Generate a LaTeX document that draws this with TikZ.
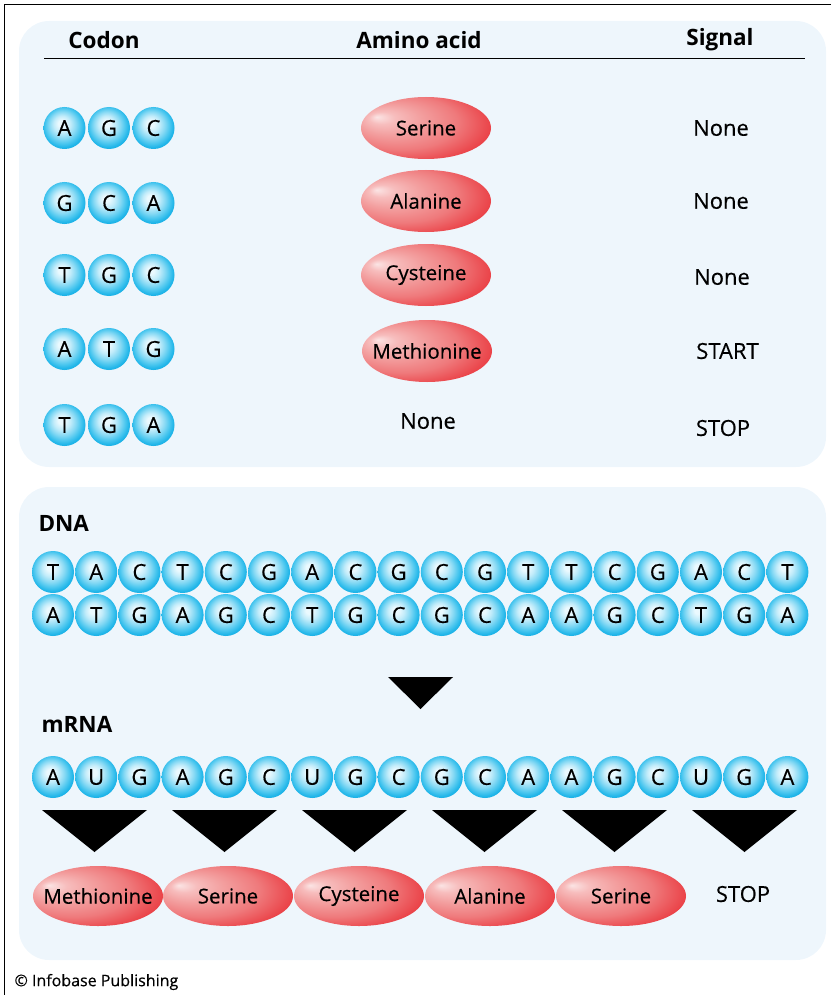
\documentclass[tikz,border=0pt]{standalone}
\usepackage{fontspec}
\setmainfont{Open Sans}
\newfontfamily\labelfont{Open Sans}[FakeBold=0.35]
\usetikzlibrary{shapes.geometric}

\definecolor{panel}{HTML}{EEF6FC}
\definecolor{sphA}{HTML}{EAF9FE}
\definecolor{sphB}{HTML}{C2ECFA}
\definecolor{sphC}{HTML}{86D9F4}
\definecolor{sphD}{HTML}{4CC7EF}
\definecolor{sphE}{HTML}{22B6E9}
\definecolor{sphF}{HTML}{06A5DF}
\definecolor{pepA}{HTML}{FBE4E4}
\definecolor{pepB}{HTML}{F7BDBD}
\definecolor{pepC}{HTML}{F3A0A0}
\definecolor{pepD}{HTML}{EF7A7C}
\definecolor{pepE}{HTML}{EB4A4F}
\definecolor{pepF}{HTML}{E8262E}
\definecolor{pepG}{HTML}{E41E28}

% shadings are stretched so that their central 50bp square covers the shape
% glossy nucleotide ball: highlight a little up and left of centre
\pgfdeclareradialshading{nucball}{\pgfpoint{-4bp}{6bp}}{%
  color(0bp)=(sphA); color(4bp)=(sphA); color(10bp)=(sphB);
  color(16bp)=(sphC); color(21bp)=(sphD); color(25bp)=(sphE);
  color(31bp)=(sphF); color(40bp)=(sphF)}
% amino-acid ellipse: pale highlight upper left, strong red on the right
\pgfdeclareradialshading{aminoball}{\pgfpoint{-19bp}{9bp}}{%
  color(0bp)=(pepA); color(5bp)=(pepB); color(12bp)=(pepC);
  color(22bp)=(pepD); color(30bp)=(pepE); color(36bp)=(pepF);
  color(46bp)=(pepG)}

% keeps the ellipse size independent of the label width
\newcommand\aclbl[1]{\makebox[0pt]{#1}}

\tikzset{
  nuc/.style={circle, minimum size=42pt, inner sep=0pt, shading=nucball,
    font=\labelfont\fontsize{22}{22}\selectfont},
  amino/.style={ellipse, minimum width=130pt, minimum height=62pt, inner sep=0pt,
    shading=aminoball, font=\labelfont\fontsize{20.5}{21}\selectfont},
  aminolow/.style={amino, minimum height=60pt},
  hdr/.style={font=\fontsize{22.5}{22}\selectfont\bfseries},
  plain/.style={font=\labelfont\fontsize{22}{22}\selectfont},
  arrowtri/.style={fill=black},
}

\begin{document}
\begin{tikzpicture}[x=1pt,y=-1pt]
\useasboundingbox (0,0) rectangle (831,995);

% page frame (top and left edges)
\draw[line width=1.4pt] (4.5,995) -- (4.5,4.5) -- (831,4.5);

% panels
\fill[panel, rounded corners=30pt] (19,21) rectangle (826,467);
\fill[panel, rounded corners=30pt] (19,487) rectangle (826,960);

% ---------- codon table ----------
\node[hdr] (hcodon) at (104,40) {Codon};
\node[hdr] (hamino) at (419,40) {Amino acid};
\node[hdr] (hsignal) at (720,40) {Signal};
\draw[line width=1pt] (44,59) -- (805,59);

\foreach \row/\y/\sig/\sx in {
  1/128/None/721,
  2/201/None/721,
  3/277/None/722,
  4/351/START/727.5,
  5/428/STOP/723}{
  \node[plain] (sig\row) at (\sx,\y) {\sig};
}
\foreach \row/\y/\a/\b/\c in {
  1/128/A/G/C,
  2/203/G/C/A,
  3/275/T/G/C,
  4/349/A/T/G,
  5/425/T/G/A}{
  \node[nuc] (t\row a) at (64.5,\y) {\a};
  \node[nuc] (t\row b) at (109,\y) {\b};
  \node[nuc] (t\row c) at (153.5,\y) {\c};
}
\node[amino] (acid1) at (426,128) {\aclbl{Serine}};
\node[amino] (acid2) at (426,201) {\aclbl{Alanine}};
\node[amino] (acid3) at (426,275) {\aclbl{Cysteine}};
\node[amino] (acid4) at (427,351) {\aclbl{Methionine}};
\node[plain] (acid5) at (428,421) {None};

% ---------- DNA ----------
\node[hdr, anchor=west] (dnalbl) at (35,523) {DNA};
\foreach \n/\b [count=\i from 0] in {1/T,2/A,3/C,4/T,5/C,6/G,7/A,8/C,9/G,10/C,11/G,12/T,13/T,14/C,15/G,16/A,17/C,18/T}
  \node[nuc] (d1n\n) at (53+43.2*\i,572) {\b};
\foreach \n/\b [count=\i from 0] in {1/A,2/T,3/G,4/A,5/G,6/C,7/T,8/G,9/C,10/G,11/C,12/A,13/A,14/G,15/C,16/T,17/G,18/A}
  \node[nuc] (d2n\n) at (53+43.2*\i,615) {\b};

% transcription arrow
\fill[arrowtri] (388,677) -- (453,677) -- (420.5,709) -- cycle;

% ---------- mRNA ----------
\node[hdr, anchor=west] (rnalbl) at (38,724) {mRNA};
\foreach \n/\b [count=\i from 0] in {1/A,2/U,3/G,4/A,5/G,6/C,7/U,8/G,9/C,10/G,11/C,12/A,13/A,14/G,15/C,16/U,17/G,18/A}
  \node[nuc] (r\n) at (53+43.2*\i,777) {\b};

% translation arrows, one per codon
\foreach \k in {0,...,5}
  \fill[arrowtri] (42+130*\k,810) -- (147+130*\k,810) -- (94.5+130*\k,852) -- cycle;

% ---------- protein ----------
\node[aminolow] (p1) at (98,896) {\aclbl{Methionine}};
\node[aminolow] (p2) at (228,896) {\aclbl{Serine}};
\node[aminolow] (p3) at (359,896) {\aclbl{Cysteine}};
\node[aminolow] (p4) at (490,896) {\aclbl{Alanine}};
\node[aminolow] (p5) at (621,896) {\aclbl{Serine}};
\node[plain] (pstop) at (743,894) {STOP};

% credit line
\node[anchor=west, font=\labelfont\fontsize{16}{17}\selectfont] (credit) at (11,982) {© Infobase Publishing};
\end{tikzpicture}
\end{document}
